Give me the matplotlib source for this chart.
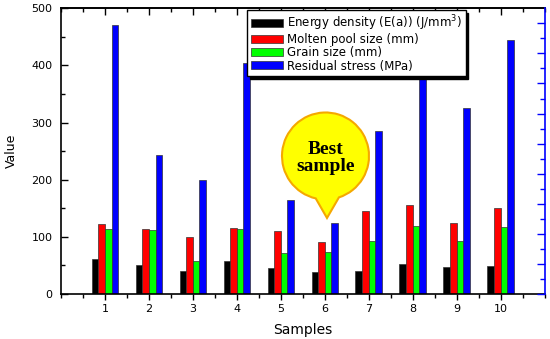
import matplotlib
matplotlib.use("Agg")
import matplotlib.pyplot as plt
import numpy as np
from matplotlib.path import Path
from matplotlib.patches import PathPatch
from matplotlib.ticker import MultipleLocator, FixedLocator

samples = [1, 2, 3, 4, 5, 6, 7, 8, 9, 10]
energy_density = [62, 50, 41, 57, 46, 38, 40, 52, 47, 49]
molten_pool = [122, 113, 100, 116, 111, 91, 146, 156, 125, 150]
grain_size = [113, 112, 58, 113, 71, 73, 93, 119, 93, 117]
residual_stress = [470, 243, 199, 405, 164, 124, 286, 395, 325, 444]
series_labels = ["Energy density (E(a)) (J/mm$^3$)", "Molten pool size (mm)",
                 "Grain size (mm)", "Residual stress (MPa)"]
series_colors = ["#000000", "#ff0000", "#00ff00", "#0000ff"]

plt.rcParams['font.family'] = ['DejaVu Sans']

fig = plt.figure(figsize=(5.5, 3.39), dpi=100)
ax = fig.add_axes([61/550, 1-294/339, (544.5-61)/550, (294-8.3)/339])

x = np.array(samples, dtype=float)
w = 0.15
allvals = [energy_density, molten_pool, grain_size, residual_stress]
offsets = [-1.5*w, -0.5*w, 0.5*w, 1.5*w]
handles = []
for vals, off, col, lab in zip(allvals, offsets, series_colors, series_labels):
    h = ax.bar(x + off, vals, width=w, color=col, edgecolor='#333333', linewidth=0.5, label=lab)
    handles.append(h)

ax.set_xlim(0, 11)
ax.set_ylim(0, 500)
ax.xaxis.set_major_locator(FixedLocator(samples))
ax.xaxis.set_minor_locator(MultipleLocator(0.5))
ax.yaxis.set_major_locator(MultipleLocator(100))
ax.yaxis.set_minor_locator(MultipleLocator(50))

ax.tick_params(axis='y', which='major', direction='in', length=5, width=1, labelsize=8, pad=6, left=True, right=False)
ax.tick_params(axis='y', which='minor', direction='in', length=3, width=1, left=True, right=False)
ax.tick_params(axis='x', which='major', direction='out', length=4, width=1, labelsize=8, pad=3, top=False)
ax.tick_params(axis='x', which='minor', direction='out', length=3, width=1, top=False)
for s in ['left', 'bottom', 'top']:
    ax.spines[s].set_linewidth(1.2)
ax.spines['right'].set_visible(False)

# top axis ticks (inward)
axt = ax.secondary_xaxis('top')
axt.xaxis.set_major_locator(FixedLocator(samples))
axt.xaxis.set_minor_locator(MultipleLocator(0.5))
axt.tick_params(axis='x', which='major', direction='in', length=5, width=1, labeltop=False)
axt.tick_params(axis='x', which='minor', direction='in', length=3, width=1)
axt.spines['top'].set_linewidth(1.2)

# right blue axis
axr = ax.twinx()
axr.set_ylim(0, 19)
axr.yaxis.set_major_locator(MultipleLocator(2))
axr.yaxis.set_minor_locator(FixedLocator(np.arange(1, 19, 2)))
axr.tick_params(axis='y', which='major', direction='in', length=6, width=1, color='#0000ff', labelright=False)
axr.tick_params(axis='y', which='minor', direction='in', length=3.5, width=1, color='#0000ff')
axr.spines['right'].set_color('#0000ff')
axr.spines['right'].set_linewidth(1.2)
for s in ['left', 'bottom', 'top']:
    axr.spines[s].set_visible(False)

ax.set_xlabel("Samples", fontsize=10, labelpad=7)
ax.set_ylabel("Value", fontsize=9, labelpad=10)

leg = axr.legend(handles, series_labels, loc='upper left', bbox_to_anchor=(0.385, 0.995),
                 fontsize=8.5, frameon=True, fancybox=False, edgecolor='black',
                 handlelength=2.7, handleheight=0.65, handletextpad=0.4, labelspacing=0.02,
                 borderpad=0.3, borderaxespad=0, shadow={'color': 'black', 'alpha': 1.0})
leg.get_frame().set_linewidth(1.0)

# callout bubble (decoration) in figure inches
cx, cy, r = 3.255, (339-156)/100, 0.435
tip = (3.27, (339-218)/100)
arc = Path.arc(-72, 257)
verts = [(cx + r*vx, cy + r*vy) for vx, vy in arc.vertices]
codes = list(arc.codes)
verts += [tip, verts[0]]
codes += [Path.LINETO, Path.CLOSEPOLY]
bubble = PathPatch(Path(verts, codes), facecolor='#ffff00', edgecolor='#f5a800', linewidth=1.5,
                   transform=fig.dpi_scale_trans, zorder=10)
fig.patches.append(bubble)
fig.text(cx, cy - 0.02, "Best\nsample", transform=fig.dpi_scale_trans, ha='center', va='center',
         family='Liberation Serif', fontweight='bold', fontsize=14, linespacing=0.95, zorder=11)

fig.savefig("out.png", dpi=100)
